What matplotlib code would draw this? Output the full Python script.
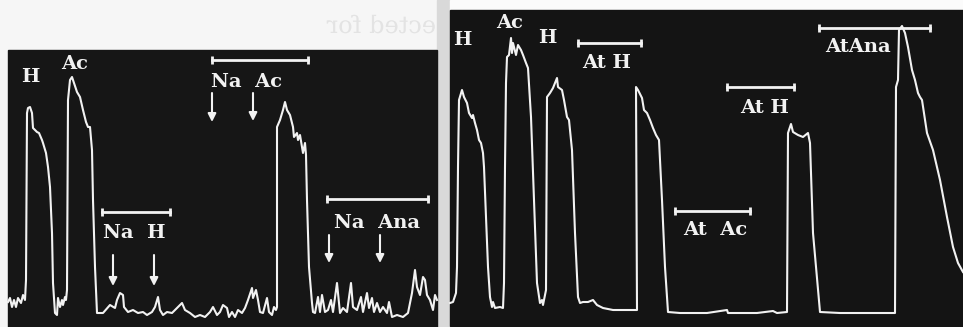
import matplotlib.pyplot as plt
from matplotlib.patches import Rectangle, PathPatch
from matplotlib.textpath import TextPath
from matplotlib.font_manager import FontProperties
from matplotlib.transforms import Affine2D

# trace del pannello di sinistra (x, y in pixel dell'immagine, y verso il basso)
left_x = [8, 10, 12, 14, 16, 18, 21, 23, 25, 26, 27, 28, 30, 32, 33, 37, 39, 42, 43, 46, 48, 50, 52, 53, 55,
          57, 58, 60, 62, 63, 65, 66, 67, 68, 70, 72, 74, 77, 80, 83, 86, 88, 90, 92, 93, 95, 97,
          103, 110, 115, 117, 120, 123, 124, 128, 133, 138, 143, 147, 152, 155, 158, 160, 163, 167, 172,
          175, 178, 182, 185, 190, 195, 200, 205, 210, 213, 217, 220, 223, 227, 229, 232, 235, 238, 242,
          245, 248, 252, 253, 256, 258, 260, 263, 267, 269, 272, 274, 276, 277, 277, 280, 283, 285, 287,
          290, 293, 294, 297, 298, 300, 302, 303, 305, 306, 307, 309, 312, 313, 315, 318, 320, 322, 325,
          328, 331, 333, 337, 340, 343, 347, 351, 353, 357, 361, 363, 367, 369, 372, 374, 377, 380, 383,
          387, 389, 392, 397, 403, 408, 412, 415, 417, 420, 423, 425, 427, 430, 433, 435, 437]
left_y = [302, 298, 307, 300, 307, 298, 303, 295, 300, 280, 113, 108, 107, 113, 128, 132, 133, 140, 143, 153,
          167, 187, 233, 283, 313, 315, 298, 307, 300, 305, 297, 300, 290, 100, 80, 77, 83, 92, 97, 110,
          122, 127, 127, 150, 200, 267, 313, 313, 305, 308, 300, 293, 295, 307, 312, 310, 313, 312, 315,
          312, 307, 297, 310, 315, 312, 313, 310, 307, 303, 310, 313, 317, 315, 317, 312, 307, 315, 312,
          305, 308, 317, 312, 317, 310, 313, 308, 300, 288, 298, 290, 300, 312, 313, 298, 312, 315, 307,
          310, 307, 127, 120, 110, 102, 110, 115, 127, 137, 133, 140, 135, 147, 153, 143, 155, 200, 267,
          303, 312, 313, 297, 312, 295, 312, 310, 300, 312, 283, 313, 308, 312, 283, 307, 310, 297, 312,
          293, 308, 298, 312, 303, 312, 307, 313, 302, 317, 315, 317, 313, 293, 270, 287, 295, 277, 280,
          295, 300, 310, 295, 300]

# trace del pannello di destra
right_x = [450, 453, 456, 457, 458, 459, 462, 464, 467, 469, 472, 473, 475, 477, 479, 481, 483, 484, 486,
           488, 490, 492, 493, 495, 500, 503, 504, 505, 506, 507, 509, 511, 512, 513, 516, 518, 521, 523,
           526, 528, 531, 534, 537, 540, 542, 543, 546, 547, 550, 553, 557, 558, 562, 564, 567, 569, 572,
           575, 578, 580, 583, 588, 593, 597, 603, 613, 627, 637, 636, 638, 642, 644, 647, 650, 653, 656,
           659, 662, 665, 668, 680, 707, 727, 728, 757, 773, 777, 787, 788, 791, 793, 798, 803, 808, 810,
           813, 820, 840, 873, 895, 896, 898, 899, 902, 905, 908, 912, 915, 918, 920, 922, 927, 933, 940,
           947, 953, 958, 963]
right_y = [303, 302, 293, 267, 167, 100, 90, 97, 103, 113, 118, 115, 123, 130, 140, 143, 153, 167, 217,
           267, 297, 307, 302, 308, 307, 308, 283, 167, 83, 57, 55, 38, 53, 43, 55, 45, 50, 55,
           63, 68, 117, 200, 283, 303, 300, 305, 290, 97, 93, 88, 78, 87, 90, 100, 117, 120, 150,
           233, 297, 303, 302, 302, 300, 305, 308, 310, 310, 310, 87, 90, 98, 110, 113, 120, 128, 135,
           140, 200, 267, 312, 313, 313, 310, 313, 313, 311, 313, 312, 133, 124, 132, 135, 137, 133, 143,
           233, 312, 313, 313, 313, 87, 80, 30, 26, 33, 47, 70, 80, 93, 97, 100, 133, 150, 180,
           217, 247, 263, 272]

# barre orizzontali con etichette
bar_x0 = [212, 102, 327, 578, 675, 727, 819]
bar_x1 = [308, 170, 428, 641, 750, 794, 930]
bar_y = [60, 212, 199, 43, 211, 87, 28]

labels = ['H', 'Ac', 'Na  Ac', 'Na  H', 'Na  Ana', 'H', 'Ac', 'H', 'At H', 'At  Ac', 'At H', 'AtAna']
label_x = [30, 75, 247, 134, 377, 462, 510, 547, 607, 715, 765, 858]
label_y = [77, 64, 82, 233, 223, 40, 23, 38, 63, 230, 108, 47]

# frecce (x, y inizio, y fine)
arrow_x = [212, 253, 113, 154, 329, 380]
arrow_y0 = [93, 93, 255, 255, 235, 235]
arrow_y1 = [122, 121, 286, 286, 263, 263]

fig = plt.figure(figsize=(9.63, 3.27), dpi=100, facecolor='#f6f6f6')
ax = fig.add_axes([0, 0, 1, 1])
ax.set_xlim(0, 963)
ax.set_ylim(327, 0)
ax.axis('off')

# sfondo: striscia grigia tra i pannelli e i due pannelli neri
ax.add_patch(Rectangle((437, 0), 13, 327, color='#d9d9d9', zorder=0))
ax.add_patch(Rectangle((450, 0), 513, 10, color='#fbfbfb', zorder=0))
ax.add_patch(Rectangle((8, 50), 429, 277, color='#161616', zorder=1))
ax.add_patch(Rectangle((450, 10), 513, 316, color='#141414', zorder=1))

# scritta sbiadita che traspare dal retro della pagina (specchiata)
tp = TextPath((0, 0), 'ected for', size=24, prop=FontProperties(family='DejaVu Serif'))
tp = Affine2D().scale(-1, -1).translate(436, 33).transform_path(tp)
ax.add_patch(PathPatch(tp, facecolor='#e3e3e3', edgecolor='none', zorder=0.5))

trace_col = '#f2f2f2'
ax.plot(left_x, left_y, color=trace_col, lw=1.5, zorder=3, solid_joinstyle='round')
ax.plot(right_x, right_y, color=trace_col, lw=1.5, zorder=3, solid_joinstyle='round')

for x0, x1, y in zip(bar_x0, bar_x1, bar_y):
    ax.plot([x0, x1], [y, y], color=trace_col, lw=2, zorder=3)
    ax.vlines([x0, x1], y - 4, y + 4, color=trace_col, lw=2, zorder=3)

for t, x, y in zip(labels, label_x, label_y):
    ax.text(x, y, t, color=trace_col, fontsize=14, family='DejaVu Serif', fontweight='bold',
            ha='center', va='center', zorder=4)

for x, y0, y1 in zip(arrow_x, arrow_y0, arrow_y1):
    ax.annotate('', xy=(x, y1), xytext=(x, y0),
                arrowprops=dict(arrowstyle='-|>', color=trace_col, lw=1.5,
                                mutation_scale=12, shrinkA=0, shrinkB=0), zorder=4)

fig.savefig('out.png', dpi=100, facecolor=fig.get_facecolor())
